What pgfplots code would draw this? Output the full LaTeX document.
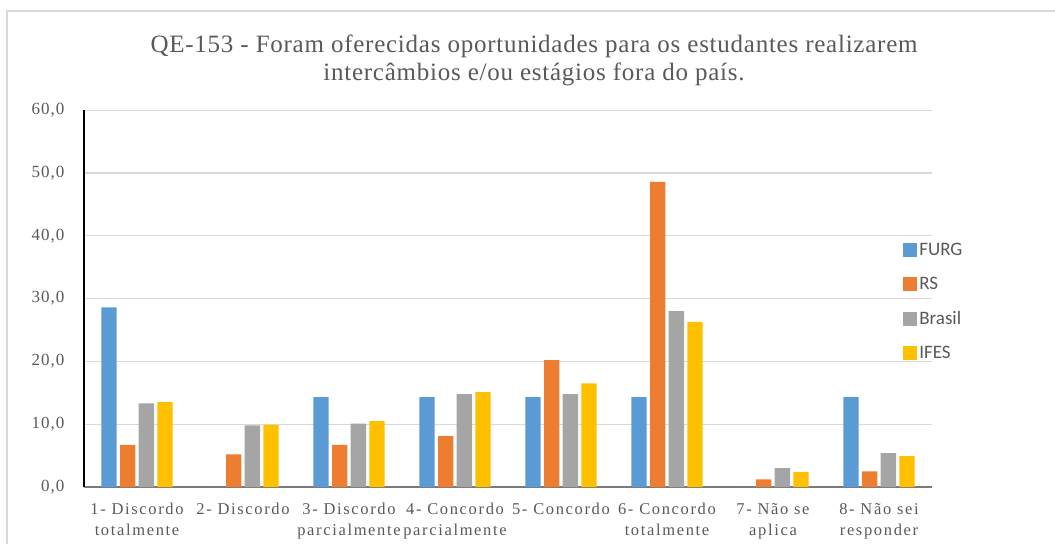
\documentclass[border=0pt]{standalone}
\usepackage{fontspec}
\setmainfont{Liberation Serif}
\newfontfamily\legfont{Carlito}
\newfontfamily\spaced[LetterSpace=10]{Liberation Serif}
\newfontfamily\yspaced[LetterSpace=6]{Liberation Serif}
\newfontfamily\tspaced[LetterSpace=3]{Liberation Serif}
\usepackage{pgfplots}
\pgfplotsset{compat=1.18}
\definecolor{cFURG}{HTML}{5B9BD5}
\definecolor{cRS}{HTML}{ED7D31}
\definecolor{cBR}{HTML}{A5A5A5}
\definecolor{cIF}{HTML}{FFC000}
\definecolor{txtc}{HTML}{595959}
\definecolor{gridc}{HTML}{D9D9D9}
\begin{document}
\begin{tikzpicture}
\useasboundingbox (0pt,0pt) rectangle (1055pt,544pt);
\draw[gridc, line width=2pt] (7pt,0pt) -- (7pt,533pt) -- (1055pt,533pt);
\node[text=txtc, font=\tspaced\fontsize{25}{28}\selectfont, align=center] at (534pt,484pt) {QE-153 - Foram oferecidas oportunidades para os estudantes realizarem\\intercâmbios e/ou estágios fora do país.};
\begin{axis}[
  at={(84pt,57pt)}, anchor=south west,
  scale only axis, width=848pt, height=376.8pt,
  xmin=-0.5, xmax=7.5, ymin=0, ymax=60,
  ybar=3.4pt, bar width=15.3pt,
  axis x line*=bottom, axis y line*=left,
  axis line style={-},
  x axis line style={draw=txtc!80, line width=1.2pt},
  y axis line style={draw=black, line width=1.2pt},
  ytick={0,10,...,60},
  ymajorgrids, xmajorgrids=false, grid style={draw=gridc, line width=1.2pt},
  major tick length=0pt,
  xtick={0,...,7},
  xticklabels={{1- Discordo\\totalmente},{2- Discordo},{3- Discordo\\parcialmente},{4- Concordo\\parcialmente},{5- Concordo},{6- Concordo\\totalmente},{7- Não se\\aplica},{8- Não sei\\responder}},
  xticklabel style={align=center, text=txtc, font=\spaced\fontsize{16.5}{21}\selectfont, yshift=-13pt},
  yticklabel style={text=txtc, font=\yspaced\fontsize{17}{19}\selectfont, xshift=-16pt},
  /pgf/number format/.cd, use comma, fixed, fixed zerofill, precision=1, assume math mode=true,
  /pgfplots/.cd,
  legend style={at={(0.966,0.652)}, anchor=north west, draw=none, fill=none,
    font=\legfont\fontsize{19}{21}\selectfont, text=txtc, row sep=16pt, inner sep=0pt,
    /tikz/every even column/.append style={column sep=4pt}},
  legend cell align=left,
  legend image code/.code={\fill[#1,draw=none] (0pt,-7pt) rectangle (14pt,7pt);},
]
\addplot[fill=cFURG, draw=none] coordinates {(0,28.6) (1,0) (2,14.3) (3,14.3) (4,14.3) (5,14.3) (6,0) (7,14.3)};
\addplot[fill=cRS, draw=none] coordinates {(0,6.7) (1,5.2) (2,6.7) (3,8.1) (4,20.2) (5,48.6) (6,1.2) (7,2.5)};
\addplot[fill=cBR, draw=none] coordinates {(0,13.3) (1,9.8) (2,10.1) (3,14.8) (4,14.8) (5,28.0) (6,3.0) (7,5.4)};
\addplot[fill=cIF, draw=none] coordinates {(0,13.5) (1,9.9) (2,10.5) (3,15.1) (4,16.5) (5,26.3) (6,2.4) (7,4.9)};
\legend{FURG,RS,Brasil,IFES}
\end{axis}
\end{tikzpicture}
\end{document}
